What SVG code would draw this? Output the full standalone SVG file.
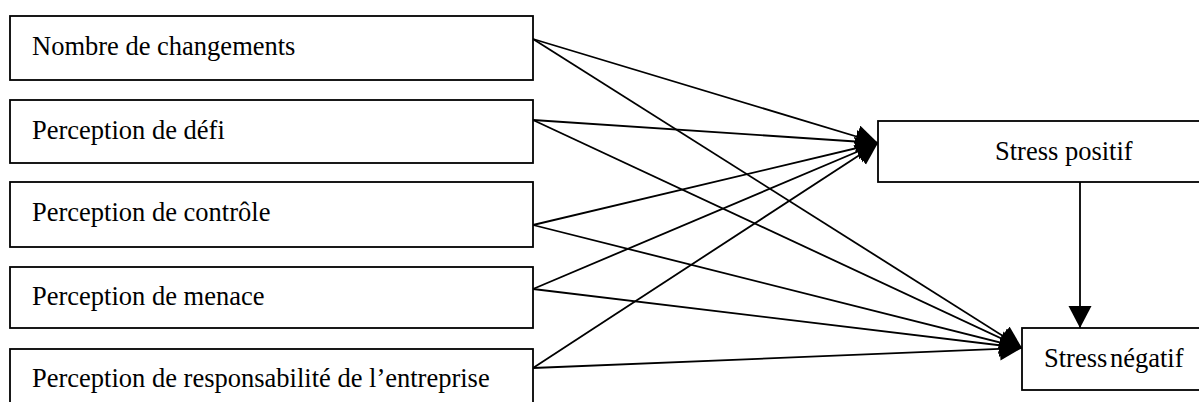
<svg xmlns="http://www.w3.org/2000/svg" width="1199" height="402" viewBox="0 0 1199 402">
<style>
.box{fill:#fff;stroke:#000;stroke-width:1.8}
.lbl{font-family:"Liberation Serif","Times New Roman",serif;font-size:26.5px;fill:#000}
.con{stroke:#000;stroke-width:1.8;fill:none;marker-end:url(#ah)}
</style>
<defs>
<marker id="ah" markerUnits="userSpaceOnUse" markerWidth="24" markerHeight="24" refX="22" refY="11.5" orient="auto" viewBox="0 0 24 24">
<path d="M0,0 L22,11.5 L0,23 z" fill="#000"/>
</marker>
</defs>
<g id="connectors">
<line class="con" x1="533" y1="39" x2="878" y2="143"/>
<line class="con" x1="533" y1="39" x2="1022" y2="348"/>
<line class="con" x1="533" y1="120" x2="878" y2="143"/>
<line class="con" x1="533" y1="120" x2="1022" y2="348"/>
<line class="con" x1="533" y1="225" x2="878" y2="143"/>
<line class="con" x1="533" y1="225" x2="1022" y2="348"/>
<line class="con" x1="533" y1="289" x2="878" y2="143"/>
<line class="con" x1="533" y1="289" x2="1022" y2="348"/>
<line class="con" x1="533" y1="368" x2="878" y2="143"/>
<line class="con" x1="533" y1="368" x2="1022" y2="348"/>
<line class="con" x1="1080" y1="182" x2="1080" y2="328"/>
</g>
<g id="n1"><rect class="box" x="10" y="16" width="523" height="64"/><text class="lbl" x="32" y="55">Nombre de changements</text></g>
<g id="n2"><rect class="box" x="10" y="100" width="523" height="63"/><text class="lbl" x="32" y="139">Perception de défi</text></g>
<g id="n3"><rect class="box" x="10" y="182" width="523" height="65"/><text class="lbl" x="32" y="221">Perception de contrôle</text></g>
<g id="n4"><rect class="box" x="10" y="267" width="523" height="61"/><text class="lbl" x="32" y="305">Perception de menace</text></g>
<g id="n5"><rect class="box" x="10" y="349" width="523" height="64"/><text class="lbl" x="32" y="387">Perception de responsabilité de l’entreprise</text></g>
<g id="n6"><rect class="box" x="878" y="121" width="340" height="61"/><text class="lbl" x="995" y="160">Stress positif</text></g>
<g id="n7"><rect class="box" x="1022" y="328" width="200" height="62"/><text class="lbl" x="1044" y="367" word-spacing="-4">Stress négatif</text></g>
</svg>
